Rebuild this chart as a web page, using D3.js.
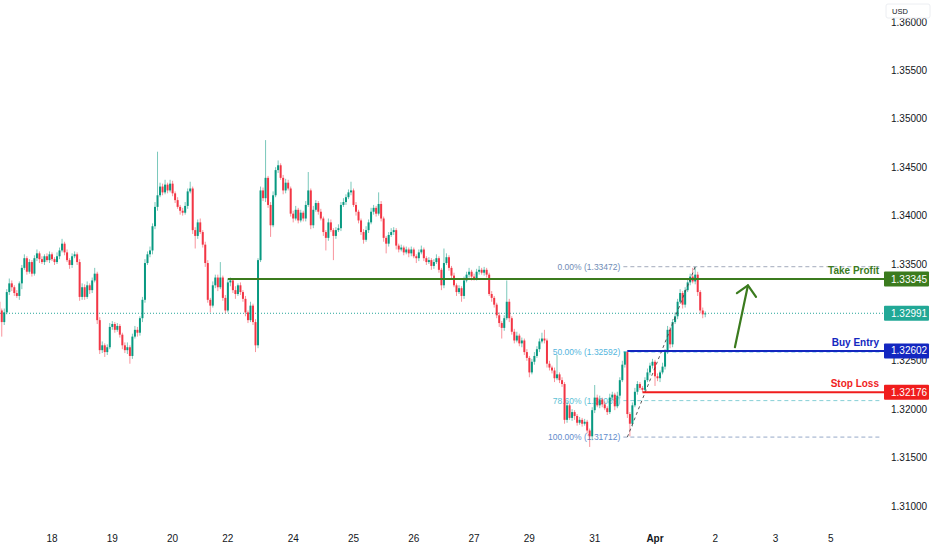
<!DOCTYPE html>
<html>
<head>
<meta charset="utf-8">
<script src="https://cdn.jsdelivr.net/npm/d3@7"></script>
<style>
  html, body { margin: 0; padding: 0; background: #fff; }
  svg { display: block; font-family: "Liberation Sans", Arial, sans-serif; }
</style>
</head>
<body>
<div id="chart"></div>
<script>
// Hourly candles, prices in pips above 1.30000 (close of each bar)
const firstOpenPips = 311;
const closePips = [
  302,290,300,321,330,326,320,317,330,346,
  356,342,352,340,356,361,355,352,358,354,
  360,355,352,358,364,371,362,354,349,358,
  360,352,316,326,316,328,323,333,340,292,
  261,266,259,264,285,288,282,286,277,266,
  261,264,255,275,282,279,294,313,351,360,
  364,389,409,421,430,424,432,426,433,423,
  416,409,405,403,410,425,428,385,379,393,
  383,370,351,313,307,328,336,326,336,315,
  302,331,333,323,319,328,321,314,300,292,
  307,290,266,354,426,418,439,411,390,421,
  447,452,439,426,434,428,402,397,406,395,
  403,397,411,426,390,406,413,404,397,383,
  377,393,385,379,385,387,411,414,419,424,
  426,411,404,395,383,375,385,393,404,408,
  402,412,397,377,371,380,383,385,369,365,
  367,362,365,361,365,358,356,362,365,356,
  352,354,348,352,356,344,328,351,357,346,
  338,328,321,325,317,333,339,342,337,335,
  342,344,341,344,339,319,315,308,297,289,
  284,294,311,294,280,271,276,268,271,259,
  253,238,249,255,262,270,273,271,247,243,
  240,232,236,230,226,189,204,191,197,193,
  186,189,185,187,178,172,199,212,204,210,
  205,201,197,212,215,203,214,230,246,259,
  195,185,204,218,226,222,220,230,238,245,
  249,234,232,238,244,259,282,267,290,296,
  311,320,308,323,331,337,332,339,321,302,
  298,299
];
// upper / lower wick length beyond the body, in pips
const wickUp = [
  3,2,4,3,5,3,2,3,2,3, 4,2,3,2,3,4,2,3,2,3, 3,2,2,4,3,5,2,3,2,3,
  3,2,3,4,3,4,2,3,6,2, 3,4,2,3,4,3,2,3,2,2, 3,5,2,3,4,3,2,3,4,3,
  4,3,5,45,4,3,5,2,4,3, 2,3,2,3,4,3,7,2,3,3, 4,2,3,3,2,4,3,3,16,2,
  3,4,3,2,4,2,3,2,3,2, 4,2,3,2,4,3,39,2,3,4, 3,5,2,3,4,3,2,3,4,2,
  3,2,4,19,2,4,3,2,3,2, 2,4,3,2,3,4,3,4,3,3, 9,2,3,2,2,3,4,3,4,3,
  2,12,3,2,2,3,4,3,2,2, 3,2,3,2,3,2,2,3,4,2, 2,3,2,3,4,2,2,15,4,2,
  2,3,2,3,2,4,3,4,2,3, 3,4,2,3,2,2,3,2,2,3, 2,3,22,3,2,3,4,2,3,2,
  3,2,3,4,3,3,6,9,2,3, 2,3,20,2,3,2,4,2,3,2, 2,3,2,3,2,2,3,13,3,4,
  2,3,2,4,3,2,4,3,4,1, 2,2,3,4,3,2,2,3,4,3, 3,2,3,2,4,3,4,3,3,4,
  3,4,2,3,4,3,9,8,3,2, 3,2
];
const wickDown = [
  4,15,3,2,3,4,3,2,4,6, 2,3,2,3,2,3,4,2,3,2, 3,2,3,2,3,2,3,2,4,3,
  2,3,4,3,3,2,4,3,2,4, 4,3,5,3,2,3,3,2,3,4, 3,4,8,3,2,4,3,4,3,2,
  3,4,3,4,2,3,2,3,2,3, 3,2,4,3,2,3,2,4,13,3, 2,3,4,3,7,2,3,4,2,3,
  3,2,4,3,5,2,3,3,4,3, 2,3,7,3,2,3,4,3,12,2, 2,3,2,4,3,2,3,4,2,3,
  2,3,3,2,4,3,2,3,2,4, 13,3,2,25,3,2,3,2,3,2, 3,2,4,3,3,4,2,3,2,3,
  3,2,3,4,10,3,2,3,4,3, 2,3,2,4,3,2,5,3,2,3, 3,2,4,3,2,3,5,3,2,3,
  3,2,4,2,6,3,2,3,4,2, 2,3,2,3,3,2,4,3,3,4, 11,3,2,4,3,3,2,3,4,3,
  3,5,2,3,2,3,2,3,4,3, 3,4,2,3,3,4,3,2,3,4, 3,2,3,2,3,11,4,3,2,3,
  3,2,3,2,3,4,2,3,2,3, 4,13,3,2,3,2,2,3,2,3, 3,10,3,4,2,3,2,4,3,2,
  3,2,4,3,2,3,2,3,4,3, 4,3
];

// time axis: bar index of each labelled day start
const dayTickBars = [21, 45, 69, 91, 117, 141, 165, 189, 211, 237, 261, 285, 309, 331];
const dayTickLabels = ["18", "19", "20", "22", "24", "25", "26", "27", "29", "31", "Apr", "2", "3", "5"];
const priceTicks = [1.36, 1.355, 1.35, 1.345, 1.34, 1.335, 1.325, 1.32, 1.315, 1.31];

// trade levels
const levelNames = ["Take Profit", "Buy Entry", "Stop Loss"];
const levelPrices = [1.33345, 1.32602, 1.32176];
const levelFromBar = [91, 250, 256];
const levelColors = ["#3b7b1e", "#1327c0", "#f01d1d"];
const lastPrice = 1.32991;

// fibonacci retracement anchors and levels
const fibLowBar = 250, fibLowPrice = 1.31712;
const fibHighBar = 277, fibHighPrice = 1.33472;
const fibRatios = [0, 0.5, 0.786, 1];
const fibLineColors = ["#a3aabb", "#4fb7de", "#86cfd6", "#97a9c8"];
const fibTextColors = ["#6f8cb6", "#53b5dd", "#5cc2d6", "#5f8ccc"];

// projected move arrow (bar, price)
const arrowTail = [292.8, 1.3264];
const arrowTip = [298, 1.3328];
const arrowWings = [[293.6, 1.3320], [301.2, 1.3316]];

const width = 932, height = 550;
const axisX = 884;

const x = d3.scaleLinear().domain([21, 261]).range([52, 655]);
const y = d3.scaleLinear().domain([1.31, 1.36]).range([506, 22]);

const toPrice = p => 1.3 + p / 10000;

const candles = closePips.map((c, i) => {
  const o = i === 0 ? firstOpenPips : closePips[i - 1];
  return {
    i,
    open: toPrice(o),
    close: toPrice(c),
    high: toPrice(Math.max(o, c) + wickUp[i]),
    low: toPrice(Math.min(o, c) - wickDown[i])
  };
});

const svg = d3.select("#chart").append("svg")
  .attr("width", width)
  .attr("height", height)
  .attr("viewBox", [0, 0, width, height]);

svg.append("rect").attr("width", width).attr("height", height).attr("fill", "#fff");

// Fibonacci dashed levels (behind candles)
const fibG = svg.append("g");
fibRatios.forEach((r, k) => {
  const price = fibHighPrice - r * (fibHighPrice - fibLowPrice);
  const yy = y(price);
  fibG.append("line")
    .attr("x1", x(fibLowBar) - 4).attr("x2", axisX - 2)
    .attr("y1", yy).attr("y2", yy)
    .attr("stroke", fibLineColors[k])
    .attr("stroke-width", 1)
    .attr("stroke-dasharray", "4,3");
  fibG.append("text")
    .attr("x", x(fibLowBar) - 7)
    .attr("y", yy)
    .attr("dy", "0.35em")
    .attr("text-anchor", "end")
    .attr("fill", fibTextColors[k])
    .style("font-family", "'Liberation Sans Narrow', 'Liberation Sans', Arial, sans-serif")
    .style("font-size", "8.5px")
    .text(`${(r * 100).toFixed(2)}% (${price.toFixed(5)})`);
});

// current price dotted line
svg.append("line")
  .attr("x1", 0).attr("x2", axisX)
  .attr("y1", y(lastPrice)).attr("y2", y(lastPrice))
  .attr("stroke", "#26a69a")
  .attr("stroke-width", 1)
  .attr("stroke-dasharray", "1,2");

// Candles
const up = "#089981", down = "#f23645";
const candleG = svg.append("g");
const bw = 2;

candleG.selectAll("line.wick")
  .data(candles)
  .join("line")
  .attr("class", "wick")
  .attr("x1", d => x(d.i)).attr("x2", d => x(d.i))
  .attr("y1", d => y(d.high)).attr("y2", d => y(d.low))
  .attr("stroke", d => d.close >= d.open ? up : down)
  .attr("stroke-opacity", 0.6)
  .attr("stroke-width", 0.9);

candleG.selectAll("rect.body")
  .data(candles)
  .join("rect")
  .attr("class", "body")
  .attr("x", d => x(d.i) - bw / 2)
  .attr("width", bw)
  .attr("y", d => y(Math.max(d.open, d.close)))
  .attr("height", d => Math.max(0.8, Math.abs(y(d.open) - y(d.close))))
  .attr("fill", d => d.close >= d.open ? up : down);

// Fib diagonal
svg.append("line")
  .attr("x1", x(fibLowBar)).attr("y1", y(fibLowPrice))
  .attr("x2", x(fibHighBar)).attr("y2", y(fibHighPrice))
  .attr("stroke", "#444")
  .attr("stroke-width", 0.9)
  .attr("stroke-dasharray", "3,3");

// Trade level lines and labels
levelPrices.forEach((p, k) => {
  const yy = y(p);
  svg.append("line")
    .attr("x1", x(levelFromBar[k])).attr("x2", axisX)
    .attr("y1", yy).attr("y2", yy)
    .attr("stroke", levelColors[k])
    .attr("stroke-width", 2);
  svg.append("text")
    .attr("x", 879)
    .attr("y", yy - 5)
    .attr("text-anchor", "end")
    .attr("fill", levelColors[k])
    .style("font-size", "10px")
    .style("font-weight", "bold")
    .text(levelNames[k]);
});

// Arrow
const arrowColor = "#3b7b1e";
svg.append("line")
  .attr("x1", x(arrowTail[0])).attr("y1", y(arrowTail[1]))
  .attr("x2", x(arrowTip[0])).attr("y2", y(arrowTip[1]))
  .attr("stroke", arrowColor).attr("stroke-width", 2.2).attr("stroke-linecap", "round");
svg.append("path")
  .attr("d", d3.line()([
    [x(arrowWings[0][0]), y(arrowWings[0][1])],
    [x(arrowTip[0]), y(arrowTip[1])],
    [x(arrowWings[1][0]), y(arrowWings[1][1])]
  ]))
  .attr("fill", "none")
  .attr("stroke", arrowColor).attr("stroke-width", 2.2)
  .attr("stroke-linecap", "round").attr("stroke-linejoin", "round");

// Price axis labels
const axisG = svg.append("g").style("font-size", "10px").attr("fill", "#131722");
axisG.selectAll("text")
  .data(priceTicks)
  .join("text")
  .attr("x", 891)
  .attr("y", d => y(d))
  .attr("dy", "0.35em")
  .text(d => d.toFixed(5));

// Price axis boxes
const boxPrices = [levelPrices[0], lastPrice, levelPrices[1], levelPrices[2]];
const boxColors = [levelColors[0], "#22a896", levelColors[1], levelColors[2]];
boxPrices.forEach((p, k) => {
  const yy = y(p);
  svg.append("rect")
    .attr("x", axisX).attr("y", yy - 7.5)
    .attr("width", 45).attr("height", 15)
    .attr("rx", 1)
    .attr("fill", boxColors[k]);
  svg.append("text")
    .attr("x", 891).attr("y", yy)
    .attr("dy", "0.35em")
    .attr("fill", "#fff")
    .style("font-size", "10px")
    .text(p.toFixed(5));
});

// currency badge
svg.append("rect")
  .attr("x", 886).attr("y", 4).attr("width", 44).attr("height", 14)
  .attr("rx", 2)
  .attr("fill", "#fff")
  .attr("stroke", "#eceef2");
svg.append("text")
  .attr("x", 892).attr("y", 11)
  .attr("dy", "0.35em")
  .attr("fill", "#131722")
  .style("font-size", "7.5px")
  .text("USD");

// Time axis labels
svg.append("g")
  .selectAll("text")
  .data(dayTickBars)
  .join("text")
  .attr("x", d => x(d))
  .attr("y", 538)
  .attr("dy", "0.35em")
  .attr("text-anchor", "middle")
  .attr("fill", "#131722")
  .style("font-size", "10px")
  .style("font-weight", (d, i) => dayTickLabels[i] === "Apr" ? "bold" : "normal")
  .text((d, i) => dayTickLabels[i]);
</script>
</body>
</html>
